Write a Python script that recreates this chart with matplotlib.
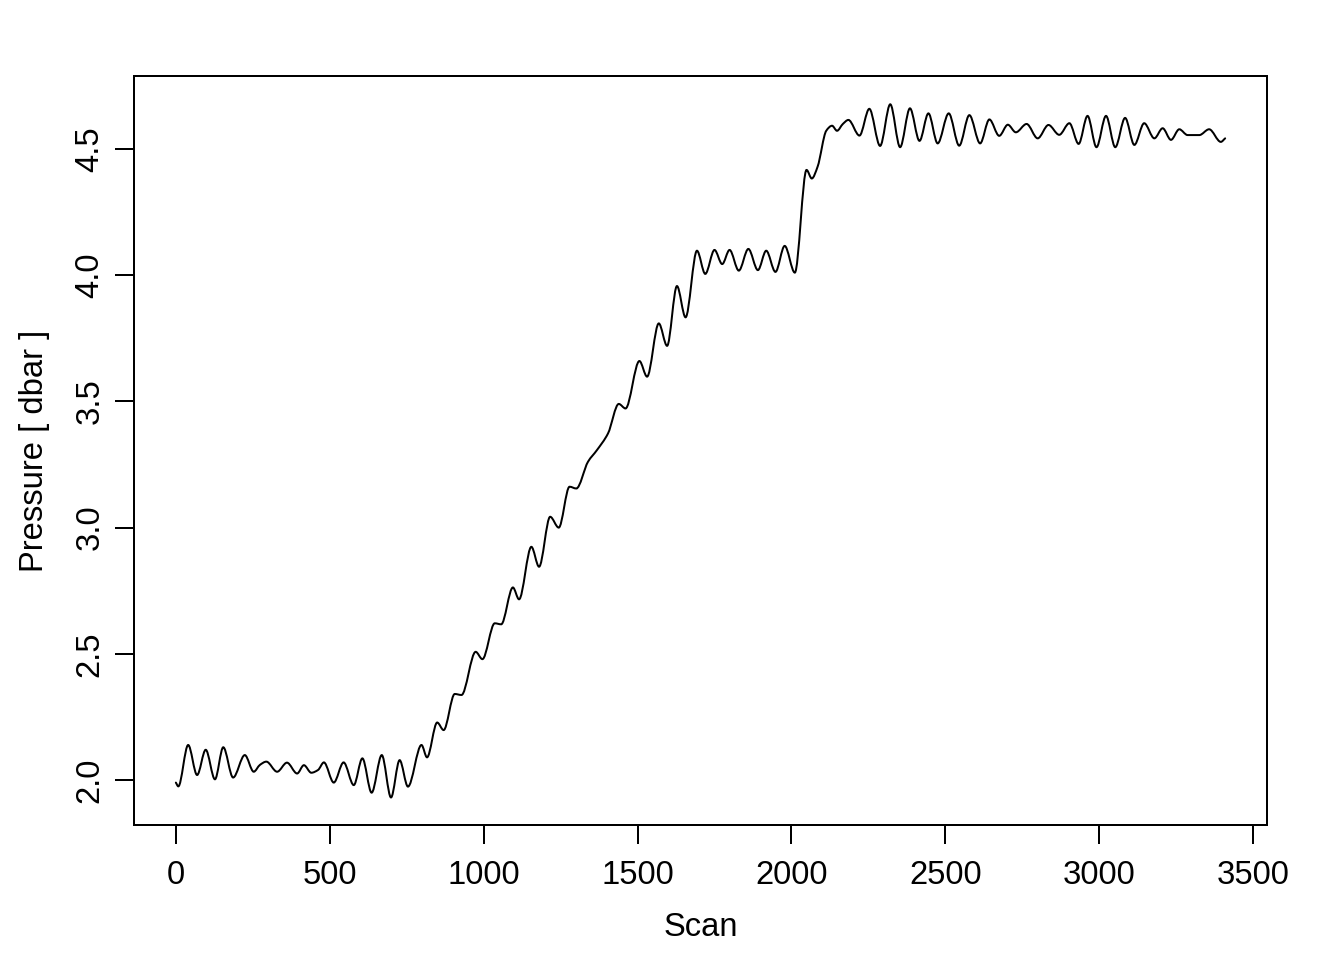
import numpy as np
import matplotlib
matplotlib.use("Agg")
import matplotlib.pyplot as plt
from matplotlib.path import Path
from matplotlib.patches import PathPatch

plt.rcParams['font.family'] = ['Liberation Sans', 'DejaVu Sans']

# Pressure record: scan number and pressure [dbar] (turning points)
scan = [0, 8, 40, 69, 97, 127, 154, 186, 224, 253, 273, 294, 329, 361, 394, 416,
        440, 462, 481, 513, 545, 578, 606, 636, 669, 699, 727, 754, 798, 816,
        849, 870, 906, 928, 974, 996, 1036, 1057, 1095, 1115, 1155, 1180, 1216,
        1244, 1279, 1301, 1339, 1368, 1404, 1439, 1461, 1506, 1531, 1569, 1596,
        1628, 1656, 1693, 1720, 1750, 1775, 1799, 1829, 1860, 1891, 1918, 1948,
        1978, 2011, 2049, 2066, 2085, 2113, 2132, 2148, 2167, 2185, 2221, 2253,
        2288, 2321, 2353, 2385, 2416, 2445, 2475, 2511, 2545, 2578, 2613, 2643,
        2675, 2703, 2729, 2764, 2800, 2835, 2870, 2903, 2933, 2962, 2991, 3022,
        3052, 3084, 3114, 3146, 3179, 3206, 3233, 3260, 3287, 3325, 3357, 3395,
        3409]
pressure = [1.990, 1.975, 2.139, 2.020, 2.120, 2.003, 2.130, 2.010, 2.099, 2.033,
            2.060, 2.073, 2.033, 2.069, 2.026, 2.059, 2.029, 2.040, 2.070, 1.990,
            2.070, 1.980, 2.086, 1.950, 2.099, 1.931, 2.079, 1.974, 2.139, 2.090,
            2.228, 2.198, 2.341, 2.337, 2.508, 2.479, 2.621, 2.617, 2.763, 2.716,
            2.924, 2.845, 3.043, 3.000, 3.162, 3.155, 3.261, 3.307, 3.373, 3.490,
            3.472, 3.660, 3.598, 3.809, 3.720, 3.957, 3.833, 4.097, 4.005, 4.100,
            4.044, 4.100, 4.018, 4.104, 4.020, 4.097, 4.013, 4.116, 4.010, 4.417,
            4.383, 4.430, 4.572, 4.592, 4.572, 4.599, 4.615, 4.553, 4.659, 4.512,
            4.677, 4.507, 4.661, 4.532, 4.641, 4.522, 4.641, 4.513, 4.634, 4.522,
            4.617, 4.552, 4.596, 4.566, 4.599, 4.542, 4.595, 4.556, 4.602, 4.520,
            4.631, 4.507, 4.631, 4.507, 4.623, 4.516, 4.602, 4.542, 4.582, 4.536,
            4.578, 4.555, 4.555, 4.578, 4.528, 4.542]

x_ticks = [0, 500, 1000, 1500, 2000, 2500, 3000, 3500]
y_ticks = [2.0, 2.5, 3.0, 3.5, 4.0, 4.5]


def smooth_path(x, y):
    """Monotone cubic (Bezier) path through the given points."""
    x = np.asarray(x, float)
    y = np.asarray(y, float)
    d = np.diff(y) / np.diff(x)
    m = np.zeros_like(y)
    for i in range(1, len(y) - 1):
        if d[i - 1] * d[i] > 0:
            m[i] = 2.0 / (1.0 / d[i - 1] + 1.0 / d[i])
    m[0], m[-1] = d[0], d[-1]
    verts = [(x[0], y[0])]
    codes = [Path.MOVETO]
    for i in range(len(x) - 1):
        h = x[i + 1] - x[i]
        verts += [(x[i] + h / 3, y[i] + m[i] * h / 3),
                  (x[i + 1] - h / 3, y[i + 1] - m[i + 1] * h / 3),
                  (x[i + 1], y[i + 1])]
        codes += [Path.CURVE4] * 3
    return Path(verts, codes)


fig = plt.figure(figsize=(7, 5), dpi=192)
ax = fig.add_axes([134 / 1344, 1 - 825 / 960, (1267 - 134) / 1344, (825 - 76) / 960])

ax.add_patch(PathPatch(smooth_path(scan, pressure), fill=False, lw=0.75,
                       edgecolor='black', capstyle='round', joinstyle='round'))

ax.set_xlim(-136, 3545)
ax.set_ylim(1.822, 4.789)

ax.set_xticks(x_ticks)
ax.set_yticks(y_ticks)
ax.set_yticklabels([f"{v:.1f}" for v in y_ticks], rotation=90, va='center')
ax.tick_params(axis='both', direction='out', length=7.2, width=0.75, labelsize=12.3)
ax.tick_params(axis='x', pad=5.8)
ax.tick_params(axis='y', pad=3.5)

for s in ax.spines.values():
    s.set_linewidth(0.75)

ax.set_xlabel("Scan", fontsize=12.3, labelpad=8)
ax.set_ylabel("Pressure [ dbar ]", fontsize=12.3, labelpad=9)

fig.savefig("out.png", dpi=192)
